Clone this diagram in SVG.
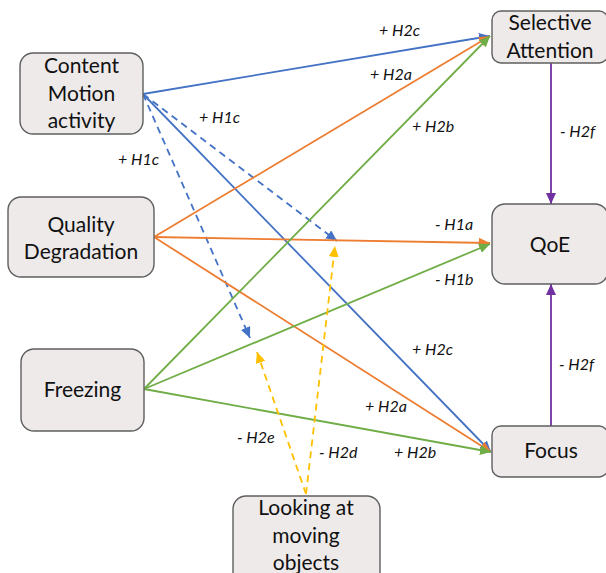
<svg xmlns="http://www.w3.org/2000/svg" width="606" height="573" viewBox="0 0 606 573">
<defs>
<style>
.box{fill:#EEEAEA;stroke:#5F5F5F;stroke-width:1.4}
.nt{font-family:Lato,"Liberation Sans",sans-serif;font-size:21px;fill:#111;text-anchor:middle}
.lb{font-family:Lato,"Liberation Sans",sans-serif;font-size:16px;font-style:italic;fill:#111}
.c{fill:none;stroke-width:1.8}
.blue{stroke:#4472C4}
.orange{stroke:#ED7D31}
.green{stroke:#70AD47}
.yellow{stroke:#FFC000}
.purple{stroke:#7030A0}
.dash{stroke-dasharray:7 5}
</style>
<marker id="mb" markerUnits="userSpaceOnUse" markerWidth="12" markerHeight="10" refX="11" refY="5" orient="auto"><path d="M0,0 L11,5 L0,10 Z" fill="#4472C4"/></marker>
<marker id="mo" markerUnits="userSpaceOnUse" markerWidth="12" markerHeight="10" refX="11" refY="5" orient="auto"><path d="M0,0 L11,5 L0,10 Z" fill="#ED7D31"/></marker>
<marker id="mg" markerUnits="userSpaceOnUse" markerWidth="12" markerHeight="10" refX="11" refY="5" orient="auto"><path d="M0,0 L11,5 L0,10 Z" fill="#70AD47"/></marker>
<marker id="my" markerUnits="userSpaceOnUse" markerWidth="12" markerHeight="10" refX="11" refY="5" orient="auto"><path d="M0,0 L11,5 L0,10 Z" fill="#FFC000"/></marker>
<marker id="mp" markerUnits="userSpaceOnUse" markerWidth="12" markerHeight="10" refX="11" refY="5" orient="auto"><path d="M0,0 L11,5 L0,10 Z" fill="#7030A0"/></marker>
</defs>
<rect width="606" height="573" fill="#fff"/>
<g id="connectors">
<line class="c blue" x1="143" y1="94" x2="490" y2="36" marker-end="url(#mb)"/>
<line class="c blue" x1="143" y1="94" x2="491" y2="452" marker-end="url(#mb)"/>
<line class="c blue dash" x1="143" y1="94" x2="337" y2="241" marker-end="url(#mb)"/>
<line class="c blue dash" x1="143" y1="94" x2="250" y2="338" marker-end="url(#mb)"/>
<line class="c orange" x1="154" y1="237" x2="490" y2="36" marker-end="url(#mo)"/>
<line class="c orange" x1="154" y1="237" x2="490" y2="243" marker-end="url(#mo)"/>
<line class="c orange" x1="154" y1="237" x2="491" y2="452" marker-end="url(#mo)"/>
<line class="c green" x1="144" y1="389" x2="490" y2="36" marker-end="url(#mg)"/>
<line class="c green" x1="144" y1="389" x2="490" y2="244" marker-end="url(#mg)"/>
<line class="c green" x1="144" y1="389" x2="491" y2="452" marker-end="url(#mg)"/>
<line class="c yellow dash" x1="306" y1="494" x2="335" y2="246" marker-end="url(#my)"/>
<line class="c yellow dash" x1="306" y1="494" x2="257" y2="352" marker-end="url(#my)"/>
<line class="c purple" x1="551" y1="63" x2="551" y2="204" marker-end="url(#mp)"/>
<line class="c purple" x1="551" y1="426" x2="551" y2="284" marker-end="url(#mp)"/>
<text class="lb" x="379" y="36">+ H2c</text>
<text class="lb" x="370" y="80">+ H2a</text>
<text class="lb" x="412" y="132">+ H2b</text>
<text class="lb" x="560" y="137">- H2f</text>
<text class="lb" x="435" y="230">- H1a</text>
<text class="lb" x="435" y="285">- H1b</text>
<text class="lb" x="199" y="123">+ H1c</text>
<text class="lb" x="118" y="165">+ H1c</text>
<text class="lb" x="237" y="443">- H2e</text>
<text class="lb" x="319" y="458">- H2d</text>
<text class="lb" x="394" y="458">+ H2b</text>
<text class="lb" x="365" y="412">+ H2a</text>
<text class="lb" x="412" y="355">+ H2c</text>
<text class="lb" x="559" y="370">- H2f</text>
</g>
<g id="content-motion">
<rect class="box" x="20" y="53" width="123" height="81" rx="13"/>
<text class="nt" x="81.5" y="73">Content</text>
<text class="nt" x="81.5" y="101">Motion</text>
<text class="nt" x="81.5" y="128">activity</text>
</g>
<g id="quality-degradation">
<rect class="box" x="8" y="197" width="146" height="80" rx="13"/>
<text class="nt" x="81" y="232">Quality</text>
<text class="nt" x="81" y="259">Degradation</text>
</g>
<g id="freezing">
<rect class="box" x="21" y="349" width="123" height="82" rx="13"/>
<text class="nt" x="82.5" y="397">Freezing</text>
</g>
<g id="looking">
<rect class="box" x="233" y="496" width="147" height="90" rx="13"/>
<text class="nt" x="306" y="515">Looking at</text>
<text class="nt" x="306" y="543">moving</text>
<text class="nt" x="306" y="570">objects</text>
</g>
<g id="selective-attention">
<rect class="box" x="492" y="11" width="116" height="52" rx="9"/>
<text class="nt" x="550" y="30">Selective</text>
<text class="nt" x="550" y="58">Attention</text>
</g>
<g id="qoe">
<rect class="box" x="492" y="204" width="116" height="80" rx="13"/>
<text class="nt" x="550" y="252">QoE</text>
</g>
<g id="focus">
<rect class="box" x="492" y="426" width="116" height="51" rx="9"/>
<text class="nt" x="551" y="458">Focus</text>
</g>
</svg>
